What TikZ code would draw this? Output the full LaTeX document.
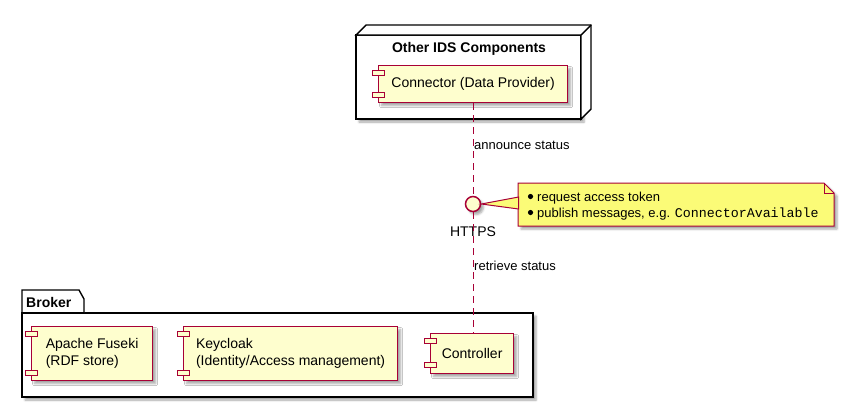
\documentclass[tikz,border=0pt]{standalone}
\usepackage{fontspec}
\setmainfont{Liberation Sans}
\setmonofont{Liberation Mono}
\usetikzlibrary{shadows.blur}
\definecolor{umlred}{HTML}{A80036}
\definecolor{compfill}{HTML}{FEFECE}
\definecolor{notefill}{HTML}{FBFB77}
\begin{document}
\begin{tikzpicture}[x=1bp,y=-1bp,
  shad/.style={blur shadow={shadow xshift=3bp, shadow yshift=-3bp, shadow blur steps=4, shadow opacity=35}},
  comp/.style={draw=umlred, fill=compfill, line width=1.2bp, rectangle, inner sep=0pt, anchor=north west,
    font=\fontsize{14bp}{16.5bp}\selectfont, align=left, shad},
  icon/.style={draw=umlred, fill=compfill, line width=1bp},
  container/.style={draw=black, fill=white, line width=1.4bp},
  lbl/.style={font=\fontsize{13bp}{15bp}\selectfont, inner sep=0pt},
  dep/.style={draw=umlred, line width=1bp, dash pattern=on 7bp off 5bp},
]
\useasboundingbox (0,0) rectangle (845,408);

% ---------- Other IDS Components (3D node) ----------
\filldraw[container, shad] (356,35) rectangle (581,119);
\filldraw[container] (356,35) -- (366,25) -- (591,25) -- (591,109) -- (581,119) -- (581,35) -- cycle;
\draw[line width=1.4bp] (581,35) -- (591,25);
\node[font=\bfseries\fontsize{14bp}{16bp}\selectfont, inner sep=0pt, anchor=base] (ids) at (469,52) {Other IDS Components};

\node[comp, minimum width=189bp, minimum height=37bp] (conn) at (378,65) {Connector (Data Provider)};
\draw[icon] (372,70) rectangle (384,75);
\draw[icon] (372,92) rectangle (384,97);

% ---------- Broker package ----------
\filldraw[container, shad] (22,313) rectangle (533,397);
\filldraw[container] (22,313) -- (22,290) -- (79,290) -- (84,299) -- (84,313);
\draw[line width=1.4bp] (22,313) -- (84,313);
\node[font=\bfseries\fontsize{14bp}{16bp}\selectfont, inner sep=0pt, anchor=base west] (broker) at (26,307) {Broker};

\node[comp, minimum width=121bp, minimum height=54bp] (fuseki) at (31,326) {Apache Fuseki\\(RDF store)};
\draw[icon] (25,331) rectangle (37,336);
\draw[icon] (25,370) rectangle (37,375);

\node[comp, minimum width=214bp, minimum height=54bp] (keycloak) at (183,326) {Keycloak\\(Identity/Access management)};
\draw[icon] (177,331) rectangle (189,336);
\draw[icon] (177,370) rectangle (189,375);

\node[comp, minimum width=83bp, minimum height=40bp] (ctrl) at (430,333) {Controller};
\draw[icon] (424,338) rectangle (436,343);
\draw[icon] (424,362) rectangle (436,367);

% ---------- Interface ----------
\node[circle, draw=umlred, fill=compfill, line width=1.5bp, minimum size=15bp, inner sep=0pt, shad] (https) at (473,204) {};
\node[lbl, font=\fontsize{14bp}{16bp}\selectfont, anchor=base] (httpslbl) at (473,236) {HTTPS};

\draw[dep] (conn.south -| https) -- (https.north);
\draw[dep] (https.south) -- (https.south |- ctrl.north);

\node[lbl, anchor=base west] (ann) at (474,149) {announce status};
\node[lbl, anchor=base west] (ret) at (474,270) {retrieve status};

% ---------- Note ----------
\filldraw[draw=umlred, fill=notefill, line width=1bp, shad] (518,183) -- (824,183) -- (834,193) -- (834,226) -- (518,226) -- cycle;
\draw[draw=umlred, line width=1bp] (824,183) -- (824,193) -- (834,193);
\filldraw[draw=umlred, fill=notefill, line width=1bp] (https.east) -- (518.6,197) -- (518.6,209) -- cycle;
\fill (530.5,196.5) circle (2.6bp);
\fill (530.5,212.5) circle (2.6bp);
\node[lbl, anchor=base west] (n1) at (537,201) {request access token};
\node[lbl, anchor=base west] (n2) at (537,217) {publish messages, e.g. {\fontsize{13.3bp}{15bp}\ttfamily ConnectorAvailable}};
\end{tikzpicture}
\end{document}
